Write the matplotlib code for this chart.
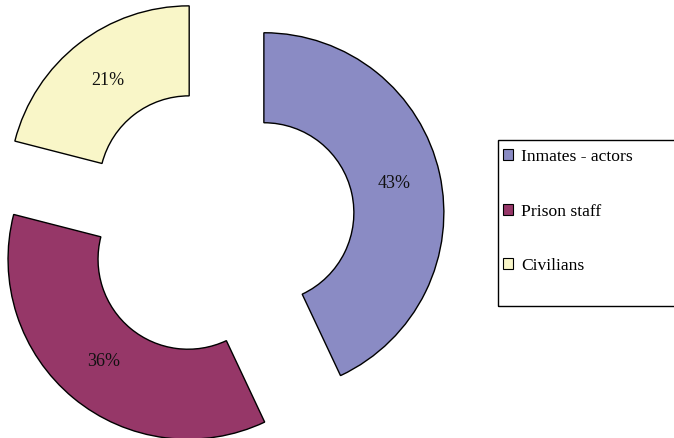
import matplotlib
matplotlib.use("Agg")
import matplotlib.pyplot as plt
from matplotlib.patches import Patch, Rectangle

categories = ["Inmates - actors", "Prison staff", "Civilians"]
shares = [43, 36, 21]
colors = ["#8A8BC4", "#963768", "#F9F6C8"]

W, H = 674, 438
fig = plt.figure(figsize=(W / 100, H / 100), dpi=100)
ax = fig.add_axes([0, 0, 1, 1])

plt.rcParams["font.family"] = ["Liberation Serif", "DejaVu Serif"]

radius = 180
center = (218, H - 223)
offset = 47

wedges, texts, autotexts = ax.pie(
    shares,
    colors=colors,
    startangle=90,
    counterclock=False,
    radius=radius,
    center=center,
    explode=[offset] * len(shares),
    autopct="%1.0f%%",
    pctdistance=0.74,
    wedgeprops=dict(width=radius * 0.5, edgecolor="black", linewidth=1.0),
    textprops=dict(fontsize=13, color="#111111", family="Liberation Serif"),
    frame=False,
)

ax.set_xlim(0, W)
ax.set_ylim(0, H)
ax.set_aspect("equal")
ax.axis("off")

# Legend frame (extends past the right edge)
box = Rectangle((498 / W, 1 - 306 / H), (W + 10 - 498) / W, (306 - 140) / H,
                transform=fig.transFigure, fill=False, edgecolor="black",
                linewidth=1.0, clip_on=False)
fig.patches.append(box)

handles = [Patch(facecolor=c, edgecolor="black", linewidth=0.8) for c in colors]
leg = fig.legend(
    handles, categories,
    loc="upper left",
    bbox_to_anchor=(503 / W, 1 - 149 / H),
    frameon=False,
    prop=dict(family="Liberation Serif", size=12.6),
    handlelength=0.6, handleheight=0.6,
    handletextpad=0.45,
    labelspacing=2.2,
    borderaxespad=0, borderpad=0,
)

fig.savefig("out.png", dpi=100)
